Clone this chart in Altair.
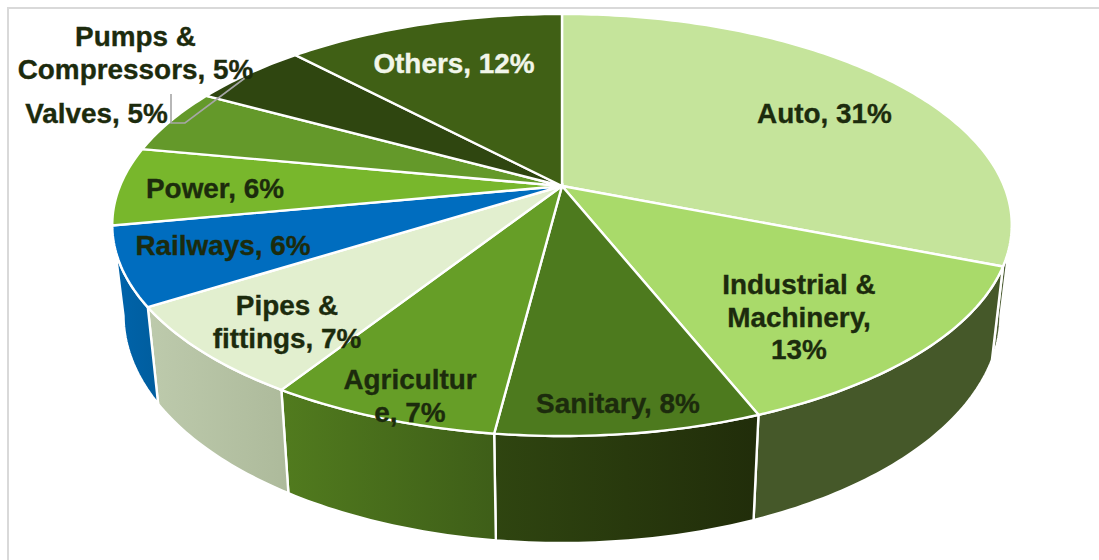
import math

import altair as alt

# Share of demand by end-use segment, in percent, clockwise from twelve o'clock.
segments = ["Auto", "Industrial & Machinery", "Sanitary", "Agriculture", "Pipes & fittings",
            "Railways", "Power", "Valves", "Pumps & Compressors", "Others"]
shares = [31, 13, 8, 7, 7, 6, 6, 5, 5, 12]
top_colors = ["#c5e49b", "#a9da6a", "#4d7a1e", "#669e27", "#e2efcf",
              "#006dbf", "#78b72c", "#64992a", "#2f4610", "#406015"]

# Slice labels, wrapped the way they are set on the chart.
label_text = ["Auto, 31%", "Industrial &\nMachinery,\n13%", "Sanitary, 8%", "Agricultur\ne, 7%",
              "Pipes &\nfittings, 7%", "Railways, 6%", "Power, 6%", "Valves, 5%",
              "Pumps &\nCompressors, 5%", "Others, 12%"]
label_colors = ["#1c2b0d"] * 9 + ["#f2f6ea"]

# Pen positions of the first line of each label on the page.
label_x = [824.5, 799, 618, 410, 287, 223, 215, 96.5, 135.5, 454]
label_y = [115, 286, 405, 381, 307, 247, 190, 115, 38, 65]

# Tilted-disc perspective: the disc centre and the foreshortening of the unit circle.
CX, CY = 562.0, 186.0
AX, BY, K = 442.0, 203.8, 0.1848
# The lower rim of the cylinder relative to the top rim.
RIM_X, RIM_Y, RIM_DY = 0.975, 1.08, 273.0
STEPS_PER_PERCENT = 4


def top_point(pct):
    a = pct / 100 * 2 * math.pi
    u, v = math.sin(a), math.cos(a)
    d = 1 + K * v
    return [CX + AX * u / d, CY - BY * v / d]


def bottom_point(pct):
    x, y = top_point(pct)
    return [CX + RIM_X * (x - CX), RIM_Y * (y - CY) + RIM_DY]


def arc(fn, start, end):
    n = max(2, int(abs(end - start) * STEPS_PER_PERCENT))
    return [fn(start + (end - start) * i / n) for i in range(n + 1)]


def polygon(points):
    return {"type": "Feature", "properties": {},
            "geometry": {"type": "Polygon", "coordinates": [points + [points[0]]]}}


def line(points):
    return {"type": "Feature", "properties": {},
            "geometry": {"type": "LineString", "coordinates": points}}


def shape(feature, **mark):
    return (alt.Chart(alt.Data(values=[feature]))
            .mark_geoshape(**mark)
            .project(type="identity", scale=1, translate=[0, 0]))


def shade(left, right):
    return alt.Gradient(gradient="linear", x1=0, x2=1, y1=0, y2=0,
                        stops=[alt.GradientStop(color=left, offset=0),
                               alt.GradientStop(color=right, offset=1)])


edges = [0]
for s in shares:
    edges.append(edges[-1] + s)

# Shading of the visible outer walls; the wall spans run along the cumulative shares.
wall_fills = {
    "Auto": shade("#55663c", "#4a5a33"),
    "Industrial & Machinery": shade("#455829", "#455829"),
    "Sanitary": shade("#2f4510", "#212d0a"),
    "Agriculture": shade("#517b1e", "#3e5e18"),
    "Pipes & fittings": shade("#bdcaac", "#adba9b"),
    "Railways": shade("#0064ab", "#005d9e"),
}
wall_start_override = {"Auto": 28.0}

layers = []

# Page frame on the top and left only.
layers.append(shape(line([[8, 560], [8, 8], [1099, 8]]), filled=False,
                    stroke="#d9d9d9", strokeWidth=2))

for i, name in enumerate(segments):
    if name not in wall_fills:
        continue
    start = wall_start_override.get(name, edges[i])
    pts = arc(top_point, start, edges[i + 1]) + arc(bottom_point, edges[i + 1], start)
    layers.append(shape(polygon(pts), fill=wall_fills[name], stroke="white", strokeWidth=2.4))

for i, name in enumerate(segments):
    pts = [[CX, CY]] + arc(top_point, edges[i], edges[i + 1])
    layers.append(shape(polygon(pts), fill=top_colors[i], stroke="white", strokeWidth=2.4))

# Callout from the small slices towards their labels.
layers.append(shape(line([[171, 94], [171, 123], [185, 123], [245, 78]]), filled=False,
                    stroke="#a6a6a6", strokeWidth=1.6))

labels = [{"label": t, "lon": x, "lat": y, "ink": c}
          for t, x, y, c in zip(label_text, label_x, label_y, label_colors)]
layers.append(
    alt.Chart(alt.Data(values=labels))
    .mark_text(font="Liberation Sans", fontWeight="bold", fontSize=27.9,
               align="center", baseline="middle", lineBreak="\n", lineHeight=32.5,
               strokeWidth=0.35)
    .encode(longitude="lon:Q", latitude="lat:Q", text="label:N",
            color=alt.Color("ink:N", scale=None), stroke=alt.Color("ink:N", scale=None))
    .project(type="identity", scale=1, translate=[0, 0])
)

chart = (
    alt.layer(*layers)
    .properties(width=1099, height=560, padding=0, background="white",
                autosize=alt.AutoSizeParams(type="none"))
    .configure_view(stroke=None)
)

chart.save("out.html", embed_options={"renderer": "svg", "actions": False})
